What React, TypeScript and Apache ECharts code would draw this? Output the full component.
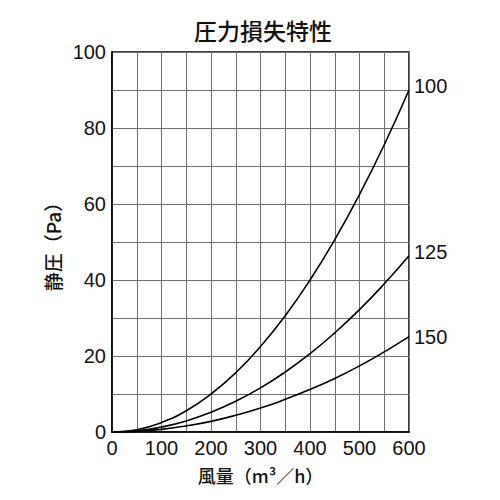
import React, { useRef, useEffect } from 'react';
import * as echarts from 'echarts';

const airflow = [0, 50, 100, 150, 200, 250, 300, 350, 400, 450, 500, 550, 600];
const pressure100 = [0, 0.6, 2.5, 5.6, 10, 15.6, 22.5, 30.6, 40, 50.6, 62.5, 75.6, 90];
const pressure125 = [0, 0.3, 1.3, 2.9, 5.2, 8.1, 11.6, 15.8, 20.6, 26.1, 32.2, 39, 46.4];
const pressure150 = [0, 0.2, 0.7, 1.6, 2.8, 4.4, 6.3, 8.6, 11.2, 14.1, 17.4, 21.1, 25.1];
const seriesNames = ['100', '125', '150'];

const FONT = '"Liberation Sans", Arial, "Noto Sans CJK JP", sans-serif';
const CJK = '"Noto Sans CJK JP", sans-serif';

const App: React.FC = () => {
  const chartRef = useRef<HTMLDivElement>(null);

  useEffect(() => {
    if (!chartRef.current) return;
    document.body.style.margin = '0';
    const chart = echarts.init(chartRef.current, undefined, { renderer: 'svg' });

    const makeSeries = (name: string, values: number[], dy: number) => ({
      name,
      type: 'line',
      data: airflow.map((x, i) => [x, values[i]]),
      smooth: true,
      symbol: 'none',
      lineStyle: { color: '#000', width: 1.6 },
      endLabel: {
        show: true,
        formatter: '{a}',
        color: '#111',
        fontSize: 20,
        fontFamily: FONT,
        distance: 4,
        offset: [1, dy],
      },
    });

    const option: echarts.EChartsOption = {
      animation: false,
      title: {
        text: '圧力損失特性',
        left: 258,
        top: 13,
        textAlign: 'center',
        textStyle: { fontSize: 23, fontWeight: 500, color: '#111', fontFamily: CJK },
      },
      grid: {
        left: 112,
        right: 91,
        top: 52,
        bottom: 68,
        show: true,
        borderColor: '#000',
        borderWidth: 1.5,
      },
      xAxis: {
        type: 'value',
        min: 0,
        max: 600,
        interval: 50,
        name: '風量（m³／h）',
        nameLocation: 'middle',
        nameGap: 34,
        nameTextStyle: { fontSize: 18, fontWeight: 500, color: '#111', fontFamily: CJK },
        axisLine: { show: true, lineStyle: { color: '#000', width: 1.5 } },
        axisTick: { show: false },
        axisLabel: {
          fontSize: 20,
          color: '#111',
          fontFamily: FONT,
          margin: 6,
          formatter: (v: number) => (v % 100 === 0 ? String(v) : ''),
        },
        splitLine: { show: true, lineStyle: { color: '#6f6f6f', width: 1 } },
      },
      yAxis: {
        type: 'value',
        min: 0,
        max: 100,
        interval: 10,
        name: '静圧（Pa）',
        nameLocation: 'middle',
        nameGap: 50,
        nameRotate: 90,
        nameTextStyle: { fontSize: 19, fontWeight: 500, color: '#111', fontFamily: CJK },
        axisLine: { show: true, lineStyle: { color: '#000', width: 1.5 } },
        axisTick: { show: false },
        axisLabel: {
          fontSize: 20,
          color: '#111',
          fontFamily: FONT,
          margin: 6,
          formatter: (v: number) => (v % 20 === 0 ? String(v) : ''),
        },
        splitLine: { show: true, lineStyle: { color: '#6f6f6f', width: 1 } },
      },
      series: [
        makeSeries(seriesNames[0], pressure100, -4),
        makeSeries(seriesNames[1], pressure125, -4),
        makeSeries(seriesNames[2], pressure150, 0),
      ] as any,
    };

    chart.setOption(option);
    return () => {
      chart.dispose();
    };
  }, []);

  return <div ref={chartRef} style={{ width: 500, height: 500 }} />;
};

export default App;
